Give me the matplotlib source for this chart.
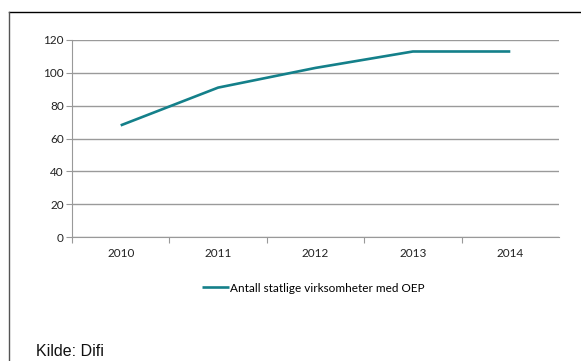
import matplotlib.pyplot as plt
from matplotlib.lines import Line2D

years = ['2010', '2011', '2012', '2013', '2014']
virksomheter = [68, 91, 103, 113, 113]
y_ticks = [0, 20, 40, 60, 80, 100, 120]
series_label = 'Antall statlige virksomheter med OEP'

W, H = 581, 361
fig = plt.figure(figsize=(W / 100, H / 100), dpi=100)
ax = fig.add_axes([72 / W, 1 - 237 / H, 487 / W, 197 / H])

x = range(len(years))
ax.plot(x, virksomheter, color='#14808A', linewidth=1.9,
        solid_capstyle='butt', label=series_label)

ax.set_xlim(-0.5, len(years) - 0.5)
ax.set_ylim(0, 120)
ax.set_yticks(y_ticks)
ax.set_yticklabels([str(v) for v in y_ticks], fontfamily='Lato', fontsize=8.5, color='#222222')
ax.set_xticks([i + 0.5 for i in range(-1, len(years) - 1)])
ax.set_xticklabels([])
ax.set_xticks(list(x), minor=True)
ax.set_xticklabels(years, minor=True, fontfamily='Lato', fontsize=8.5, color='#222222')
ax.tick_params(axis='x', which='major', length=4, color='#999999', width=0.8)
ax.tick_params(axis='x', which='minor', length=0, pad=8)
ax.tick_params(axis='y', length=4, color='#999999', width=0.8, pad=2)

ax.grid(axis='y', color='#9a9a9a', linewidth=1.0)
ax.set_axisbelow(True)
for side in ['top', 'right']:
    ax.spines[side].set_visible(False)
ax.spines['left'].set_color('#999999')
ax.spines['bottom'].set_color('#999999')

leg = fig.legend(loc='center', bbox_to_anchor=(313 / W, 1 - 288 / H), frameon=False,
                 prop={'family': 'Lato', 'size': 8.5}, handlelength=2.3, handletextpad=0.1)

fig.text(36 / W, 1 - 356 / H, 'Kilde: Difi', fontfamily='Liberation Sans', fontsize=11.5,
         color='#111111', va='baseline')

# outer frame (cropped at right and bottom)
fig.add_artist(Line2D([9 / W, 1], [1 - 12 / H, 1 - 12 / H], color='black', linewidth=1.0))
fig.add_artist(Line2D([9 / W, 9 / W], [0, 1 - 12 / H], color='#555555', linewidth=1.0))

fig.savefig('out.png', dpi=100)
